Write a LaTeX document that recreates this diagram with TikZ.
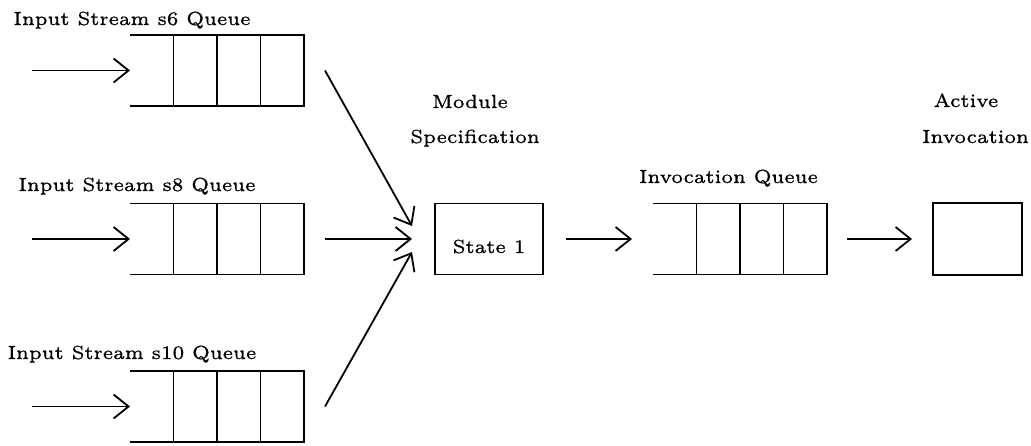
\documentclass[tikz,border=0pt]{standalone}
\usetikzlibrary{arrows.meta,calc}
\usepackage{graphicx}
\font\lblfont="[lmroman6-regular.otf]:embolden=0.8" at 19pt
\newcommand\wtxt[1]{{\lblfont #1}}
\begin{document}
\begin{tikzpicture}[x=1pt,y=-1pt,
  ln/.style={line width=1.8pt},
  arr/.style={ln,-{Straight Barb[length=15pt,width=24pt,line width=1.8pt]}},
  qbox/.style={minimum width=174pt,minimum height=71pt,inner sep=0pt,outer sep=0pt},
  sbox/.style={draw,ln,inner sep=0pt,outer sep=0pt},
  lbl/.style={anchor=base,inner sep=0pt}]
\useasboundingbox (0,0) rectangle (1031,446);
% queues
\node[qbox] (q1) at (217,70.5) {};
\node[qbox] (q2) at (217,239) {};
\node[qbox] (q3) at (217,406.5) {};
\node[qbox] (qi) at (740,239) {};
\foreach \q in {q1,q2,q3,qi}{
  \draw[ln] (\q.north west) -- (\q.north east) -- (\q.south east) -- (\q.south west);
  \foreach \f in {0.25,0.5,0.75}
    \draw[ln] ($(\q.north west)!\f!(\q.north east)$) -- ($(\q.south west)!\f!(\q.south east)$);
}
% boxes
\node[sbox,minimum width=108pt,minimum height=71pt] (s) at (489,239) {};
\node[lbl] (st) at (489,253) {\wtxt{State 1}};
\node[sbox,minimum width=89pt,minimum height=72pt] (a) at (977.5,239) {};
% labels
\node[lbl] (l1) at (132,25) {\wtxt{Input Stream s6 Queue}};
\node[lbl] (l2) at (137,191) {\wtxt{Input Stream s8 Queue}};
\node[lbl] (l3) at (132,359) {\wtxt{Input Stream s10 Queue}};
\node[lbl] (lm1) at (470,108) {\wtxt{Module}};
\node[lbl] (lm2) at (475,143) {\wtxt{Specification}};
\node[lbl] (li) at (728.5,183) {\wtxt{Invocation Queue}};
\node[lbl] (la1) at (966,107) {\wtxt{Active}};
\node[lbl] (la2) at (975.5,143) {\wtxt{Invocation}};
% input arrows
\coordinate (i1) at (32,70.5);
\coordinate (i2) at (32,239);
\coordinate (i3) at (32,406.5);
\draw[arr] (i1) -- (q1.west);
\draw[arr] (i2) -- (q2.west);
\draw[arr] (i3) -- (q3.west);
% converging arrows
\draw[arr] ([xshift=21pt]q1.east) -- ([xshift=-23pt,yshift=13pt]s.west);
\draw[arr] ([xshift=21pt]q2.east) -- ([xshift=-23pt]s.west);
\draw[arr] ([xshift=21pt]q3.east) -- ([xshift=-23pt,yshift=-13pt]s.west);
% chain
\draw[arr] ([xshift=23pt]s.east) -- ([xshift=-21pt]qi.west);
\draw[arr] ([xshift=20pt]qi.east) -- ([xshift=-21pt]a.west);
\end{tikzpicture}
\end{document}
